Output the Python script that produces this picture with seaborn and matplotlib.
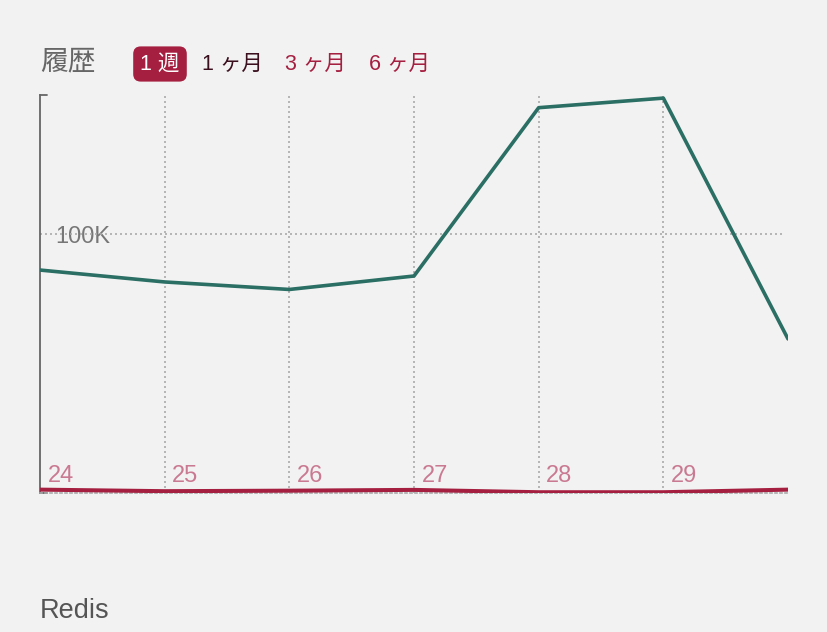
import matplotlib
matplotlib.use("Agg")
import matplotlib.pyplot as plt
import seaborn as sns
import pandas as pd
from matplotlib.transforms import blended_transform_factory

days = [24, 25, 26, 27, 28, 29, 30]
day_labels = ["24", "25", "26", "27", "28", "29"]
series_green = [86100, 81500, 78600, 83800, 148800, 152500, 59500]
series_red = [1300, 700, 900, 1200, 300, 300, 1300]
ytick_vals = [100000]
ytick_labels = ["100K"]
title = "履歴"
buttons = ["1 週", "1 ヶ月", "3 ヶ月", "6 ヶ月"]
footer = "Redis"

sns.set_style("white")
plt.rcParams['font.family'] = ['Liberation Sans', 'Noto Sans CJK JP', 'DejaVu Sans']

BG = "#f2f2f2"
GREEN = "#2a6e64"
RED = "#a51f40"

fig = plt.figure(figsize=(8.28, 6.32), dpi=100, facecolor=BG)
W, H = 828, 632
ax = fig.add_axes([40 / W, (H - 493) / H, 748 / W, 398 / H])
ax.set_facecolor(BG)

df = pd.DataFrame({"day": days, "green": series_green, "red": series_red})
sns.lineplot(data=df, x="day", y="green", ax=ax, color=GREEN, linewidth=2.6, zorder=3)
sns.lineplot(data=df, x="day", y="red", ax=ax, color=RED, linewidth=2.9, zorder=3)

ax.set_xlim(24, 30)
ax.set_ylim(0, 153700)

# grid
for d in days[1:-1]:
    ax.axvline(d, color="#aaaaaa", linestyle=(0, (1.2, 1.8)), linewidth=1.2, zorder=1)
for v in ytick_vals:
    ax.plot([24, 29.97], [v, v], color="#aaaaaa", linestyle=(0, (1.2, 1.8)), linewidth=1.2, zorder=1)

# spines
for s in ["top", "right"]:
    ax.spines[s].set_visible(False)
ax.spines["left"].set_color("#666666")
ax.spines["left"].set_linewidth(1.3)
ax.spines["bottom"].set_color("#aaaaaa")
ax.spines["bottom"].set_linestyle((0, (1.2, 1.8)))
ax.spines["bottom"].set_linewidth(1.2)
ax.plot([24, 24.06], [153700, 153700], color="#666666", linewidth=1.3, clip_on=False)
ax.plot([24, 24.06], [0, 0], color="#666666", linewidth=1.3, clip_on=False)

# y ticks
ax.set_yticks(ytick_vals)
ax.set_yticklabels(ytick_labels)
ax.tick_params(axis="y", direction="in", length=6, width=1.5, color="#aaaaaa",
               pad=-11, labelsize=17, labelcolor="#777777")
for lab in ax.get_yticklabels():
    lab.set_horizontalalignment("left")

# x tick labels inside
ax.set_xticks([])
ax.set_xlabel("")
ax.set_ylabel("")
trans = blended_transform_factory(ax.transData, ax.transAxes)
for d, lab in zip(days, day_labels):
    ax.text(d + 0.06, 0.042, lab, transform=trans, fontsize=17, color="#c97a92",
            ha="left", va="center")

# header
fig.text(40 / W, 1 - 62 / H, title, fontsize=20, color="#666666", va="center", ha="left")
fig.text(160 / W, 1 - 64 / H, buttons[0], fontsize=15.5, color="white", va="center", ha="center",
         bbox=dict(boxstyle="round,pad=0.33,rounding_size=0.35", fc=RED, ec="none"))
fig.text(202 / W, 1 - 64 / H, buttons[1], fontsize=15.5, color="#3b0f1e", va="center", ha="left")
fig.text(285 / W, 1 - 64 / H, buttons[2], fontsize=15.5, color=RED, va="center", ha="left")
fig.text(369 / W, 1 - 64 / H, buttons[3], fontsize=15.5, color=RED, va="center", ha="left")

fig.text(40 / W, 1 - 611 / H, footer, fontsize=19.5, color="#555555", va="center", ha="left")

fig.savefig("out.png", dpi=100, facecolor=BG)
